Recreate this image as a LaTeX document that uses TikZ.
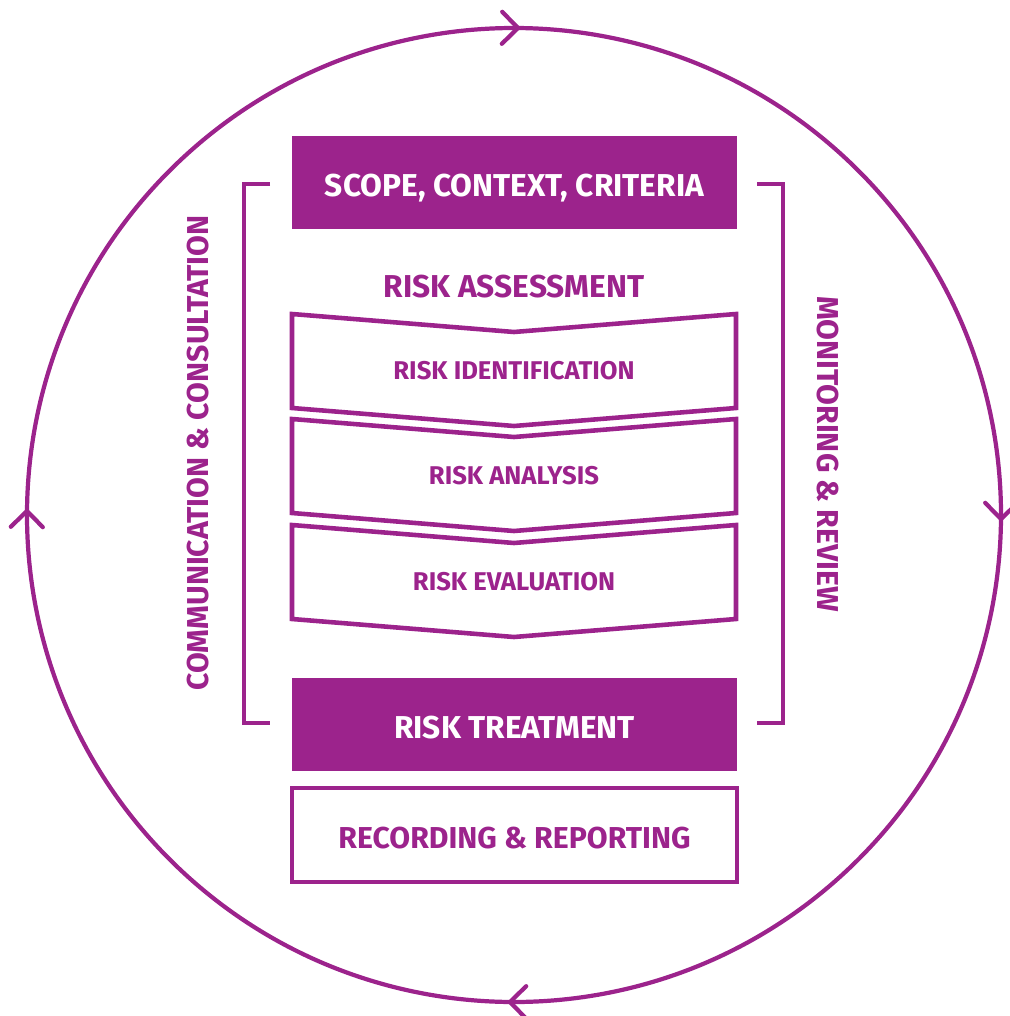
\documentclass[tikz,border=0pt]{standalone}
\usepackage{fontspec}
\setmainfont{Fira Sans}
\usetikzlibrary{arrows.meta,decorations.markings}

\definecolor{riskpurple}{RGB}{156,35,140}
\newcommand{\bigfont}{\fontsize{9.0}{11}\selectfont\bfseries}
\newcommand{\sidefont}{\fontsize{8.6}{10}\selectfont\bfseries}
\newcommand{\smallfont}{\fontsize{7.3}{9}\selectfont\bfseries}

\tikzset{
	ring/.style={draw=riskpurple, line width=1.2pt, postaction={decorate},
		decoration={markings, mark=between positions 0.127 and 1 step 0.25 with
			{\arrow{Straight Barb[length=1.6mm, width=3.2mm, round, line width=1.2pt]}}}},
	filledbox/.style={fill=riskpurple, text=white, minimum width=4.45cm, minimum height=0.93cm,
		text height=1.5ex, text depth=0pt, font=\bigfont},
	openbox/.style={draw=riskpurple, line width=1.3pt, text=riskpurple, minimum width=4.45cm, minimum height=0.94cm,
		text height=1.5ex, text depth=0pt, font=\sidefont},
	chevron/.style={draw=riskpurple, line width=1.3pt},
	bracket/.style={draw=riskpurple, line width=1.3pt},
	sidetext/.style={text=riskpurple, font=\sidefont}
}

\begin{document}
\begin{tikzpicture}
	\useasboundingbox (0,0) rectangle (10.09,-10.16);
	
	% outer cycle
	\path[ring] (5.14,-5.15) ++(135:4.87) arc (135:-225:4.87);
	
	\node[filledbox] (scope) at (5.145,-1.825) {SCOPE, CONTEXT, CRITERIA};
	\node[text=riskpurple, font=\bigfont, text height=1.5ex, text depth=0pt] (assess) at (5.14,-2.84) {RISK ASSESSMENT};
	
	% the three steps of the assessment
	\foreach \y/\name/\txt in {3.14/ident/RISK IDENTIFICATION, 4.19/analysis/RISK ANALYSIS, 5.25/evalu/RISK EVALUATION} {
		\draw[chevron] (2.92,-\y) -- (5.14,{-\y-0.18}) -- (7.36,-\y) -- (7.36,{-\y-0.94}) -- (5.14,{-\y-1.12}) -- (2.92,{-\y-0.94}) -- cycle;
		\node[text=riskpurple, font=\smallfont] (\name) at (5.14,{-\y-0.57}) {\txt};
	}
	
	\node[filledbox] (treat) at (5.145,-7.245) {RISK TREATMENT};
	\node[openbox] (record) at (5.145,-8.35) {RECORDING \& REPORTING};
	
	% brackets and side labels
	\draw[bracket] (2.70,-1.84) -- (2.44,-1.84) -- (2.44,-7.23) -- (2.70,-7.23);
	\draw[bracket] (7.57,-1.84) -- (7.83,-1.84) -- (7.83,-7.23) -- (7.57,-7.23);
	\node[sidetext, rotate=90] (comm) at (1.98,-4.53) {COMMUNICATION \& CONSULTATION};
	\node[sidetext, rotate=-90] (monitor) at (8.28,-4.54) {MONITORING \& REVIEW};
\end{tikzpicture}
\end{document}
